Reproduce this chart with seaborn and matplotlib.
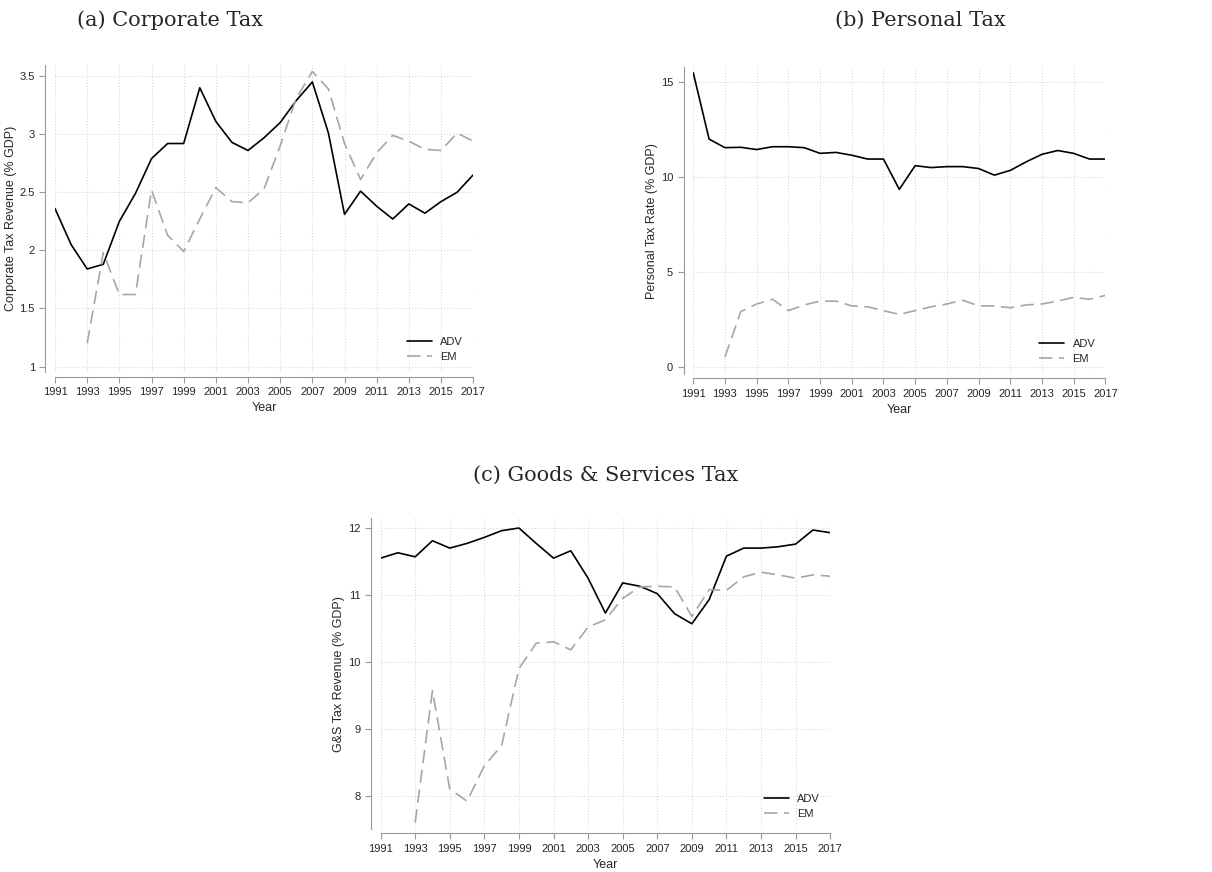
import numpy as np
import pandas as pd
import seaborn as sns
import matplotlib.pyplot as plt

years = list(range(1991, 2018))
em_years = list(range(1993, 2018))

corp_adv = [2.36, 2.05, 1.84, 1.88, 2.25, 2.49, 2.79, 2.92, 2.92, 3.40, 3.11, 2.93, 2.86, 2.97,
            3.10, 3.29, 3.45, 3.01, 2.31, 2.51, 2.38, 2.27, 2.40, 2.32, 2.42, 2.50, 2.65]
corp_em = [1.20, 1.98, 1.62, 1.62, 2.52, 2.13, 1.99, 2.27, 2.54, 2.42, 2.41, 2.53, 2.90, 3.31,
           3.54, 3.39, 2.92, 2.61, 2.84, 2.99, 2.94, 2.87, 2.86, 3.01, 2.94]
pers_adv = [15.5, 12.0, 11.55, 11.57, 11.45, 11.6, 11.6, 11.55, 11.25, 11.3, 11.15, 10.95, 10.95,
            9.35, 10.6, 10.5, 10.55, 10.55, 10.45, 10.1, 10.35, 10.8, 11.2, 11.4, 11.25, 10.95, 10.95]
pers_em = [0.5, 2.9, 3.3, 3.55, 2.95, 3.25, 3.45, 3.45, 3.2, 3.15, 2.95, 2.75, 2.95, 3.15, 3.3,
           3.5, 3.2, 3.2, 3.1, 3.25, 3.3, 3.45, 3.65, 3.55, 3.75]
gs_adv = [11.55, 11.63, 11.57, 11.81, 11.7, 11.77, 11.86, 11.96, 12.0, 11.77, 11.55, 11.66, 11.25,
          10.73, 11.18, 11.13, 11.02, 10.72, 10.57, 10.93, 11.58, 11.7, 11.7, 11.72, 11.76, 11.97, 11.93]
gs_em = [7.6, 9.57, 8.1, 7.92, 8.45, 8.75, 9.9, 10.28, 10.3, 10.18, 10.52, 10.63, 10.95, 11.12,
         11.13, 11.12, 10.68, 11.08, 11.07, 11.27, 11.34, 11.3, 11.25, 11.3, 11.28]

sns.set_style("white")
plt.rcParams['font.family'] = ['Liberation Sans', 'DejaVu Sans']

fig = plt.figure(figsize=(12.12, 8.72), dpi=100)

panels = [
    ("(a) Corporate Tax", "Corporate Tax Revenue (% GDP)", corp_adv, corp_em,
     [0.0454, 0.573, 0.345, 0.353], (0.95, 3.6), [1, 1.5, 2, 2.5, 3, 3.5],
     ["1", "1.5", "2", "2.5", "3", "3.5"], (170, 20)),
    ("(b) Personal Tax", "Personal Tax Rate (% GDP)", pers_adv, pers_em,
     [0.572, 0.571, 0.340, 0.352], (-0.4, 15.8), [0, 5, 10, 15],
     ["0", "5", "10", "15"], (920, 20)),
    ("(c) Goods & Services Tax", "G&S Tax Revenue (% GDP)", gs_adv, gs_em,
     [0.314, 0.049, 0.371, 0.357], (7.5, 12.15), [8, 9, 10, 11, 12],
     ["8", "9", "10", "11", "12"], (606, 475)),
]

for title, ylab, adv, em, pos, ylim, yt, ytl, tpos in panels:
    ax = fig.add_axes(pos)
    sns.lineplot(x=years, y=adv, ax=ax, color="black", lw=1.2, label="ADV")
    sns.lineplot(x=em_years, y=em, ax=ax, color="#a6a6a6", lw=1.2, label="EM")
    ax.lines[1].set_linestyle((0, (8, 4)))
    ax.set_xlim(1991, 2017)
    ax.set_ylim(*ylim)
    ax.set_xticks(range(1991, 2018, 2))
    ax.set_yticks(yt)
    ax.set_yticklabels(ytl)
    ax.tick_params(axis='both', labelsize=8, length=4, direction='out', color='#999999',
                   bottom=True, left=True)
    ax.grid(True, linestyle=':', color='#d9d9d9', lw=0.8)
    for s in ['top', 'right']:
        ax.spines[s].set_visible(False)
    ax.spines['left'].set_position(('outward', 7))
    ax.spines['bottom'].set_position(('outward', 3))
    for s in ['left', 'bottom']:
        ax.spines[s].set_color('#999999')
    ax.set_xlabel("Year", fontsize=9)
    ax.set_ylabel(ylab, fontsize=9, labelpad=2)
    ax.legend(loc='lower right', frameon=False, fontsize=8, handlelength=2.2)
    fig.text(tpos[0] / 1212, 1 - tpos[1] / 872, title, ha='center', va='center',
             fontsize=15, family='DejaVu Serif')

plt.savefig("out.png", dpi=100)
